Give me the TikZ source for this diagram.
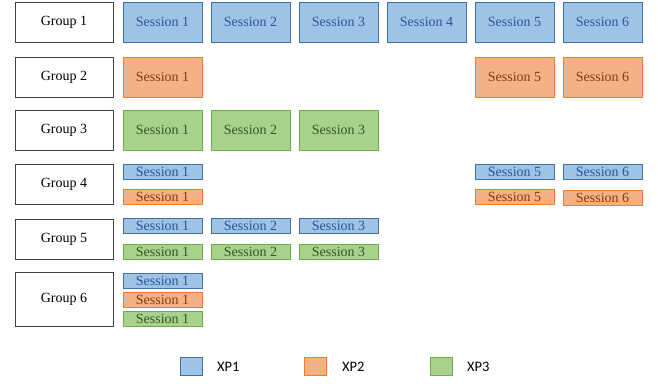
\documentclass[tikz,border=0pt]{standalone}
\usepackage{fontspec}
\setmainfont{Liberation Serif}
\newfontfamily\legendfont{Carlito}
\definecolor{xpblue}{HTML}{9DC3E6}
\definecolor{xpblueline}{HTML}{41719C}
\definecolor{xpbluetext}{HTML}{2F5597}
\definecolor{xporange}{HTML}{F4B183}
\definecolor{xporangeline}{HTML}{ED7D31}
\definecolor{xporangetext}{HTML}{843C0C}
\definecolor{xpgreen}{HTML}{A9D18E}
\definecolor{xpgreenline}{HTML}{70AD47}
\definecolor{xpgreentext}{HTML}{385723}
\tikzset{
	group/.style={draw=black!75, line width=1pt, minimum width=98pt, minimum height=40pt, inner sep=0pt, font=\fontsize{14}{15}\selectfont},
	sess/.style={line width=0.9pt, minimum width=79pt, minimum height=40pt, inner sep=0pt, font=\fontsize{14}{15}\selectfont},
	small/.style={sess, minimum height=15pt},
	xp1/.style={fill=xpblue, draw=xpblueline, text=xpbluetext},
	xp2/.style={fill=xporange, draw=xporangeline, text=xporangetext},
	xp3/.style={fill=xpgreen, draw=xpgreenline, text=xpgreentext},
	key/.style={line width=0.9pt, minimum width=22pt, minimum height=18pt, inner sep=0pt},
	keytext/.style={anchor=west, inner sep=0pt, font=\legendfont\fontsize{14.5}{15}\selectfont}
}
\begin{document}
\begin{tikzpicture}[x=1pt, y=-1pt]
	\useasboundingbox (0,0) rectangle (658,383);
	% groups
	\node [group] (g1) at (64,22) {Group 1};
	\node [group] (g2) at (64,77) {Group 2};
	\node [group] (g3) at (64,130) {Group 3};
	\node [group] (g4) at (64,184) {Group 4};
	\node [group] (g5) at (64,239) {Group 5};
	\node [group, minimum height=54pt] (g6) at (64,299) {Group 6};
	% group 1
	\foreach \i/\x in {1/162.5, 2/250.5, 3/338.5, 4/426.5, 5/514.5, 6/602.5}
		\node [sess, xp1] (g1s\i) at (\x,22) {Session \i};
	% group 2
	\node [sess, xp2] (g2s1) at (162.5,77) {Session 1};
	\node [sess, xp2] (g2s5) at (514.5,77) {Session 5};
	\node [sess, xp2] (g2s6) at (602.5,77) {Session 6};
	% group 3
	\node [sess, xp3] (g3s1) at (162.5,130) {Session 1};
	\node [sess, xp3] (g3s2) at (250.5,130) {Session 2};
	\node [sess, xp3] (g3s3) at (338.5,130) {Session 3};
	% group 4
	\node [small, xp1] (g4a1) at (162.5,171.5) {Session 1};
	\node [small, xp1] (g4a5) at (514.5,171.5) {Session 5};
	\node [small, xp1] (g4a6) at (602.5,171.5) {Session 6};
	\node [small, xp2] (g4b1) at (162.5,196.5) {Session 1};
	\node [small, xp2] (g4b5) at (514.5,196.5) {Session 5};
	\node [small, xp2] (g4b6) at (602.5,197.5) {Session 6};
	% group 5
	\node [small, xp1] (g5a1) at (162.5,226) {Session 1};
	\node [small, xp1] (g5a2) at (250.5,226) {Session 2};
	\node [small, xp1] (g5a3) at (338.5,226) {Session 3};
	\node [small, xp3] (g5b1) at (162.5,252) {Session 1};
	\node [small, xp3] (g5b2) at (250.5,252) {Session 2};
	\node [small, xp3] (g5b3) at (338.5,252) {Session 3};
	% group 6
	\node [small, xp1] (g6a1) at (162.5,281) {Session 1};
	\node [small, xp2] (g6b1) at (162.5,299.5) {Session 1};
	\node [small, xp3] (g6c1) at (162.5,319) {Session 1};
	% legend
	\node [key, xp1] (k1) at (191,366) {};
	\node [keytext] (k1t) at (217,367) {XP1};
	\node [key, xp2] (k2) at (315.5,366) {};
	\node [keytext] (k2t) at (342,367) {XP2};
	\node [key, xp3] (k3) at (441.5,366) {};
	\node [keytext] (k3t) at (467,367) {XP3};
\end{tikzpicture}
\end{document}
